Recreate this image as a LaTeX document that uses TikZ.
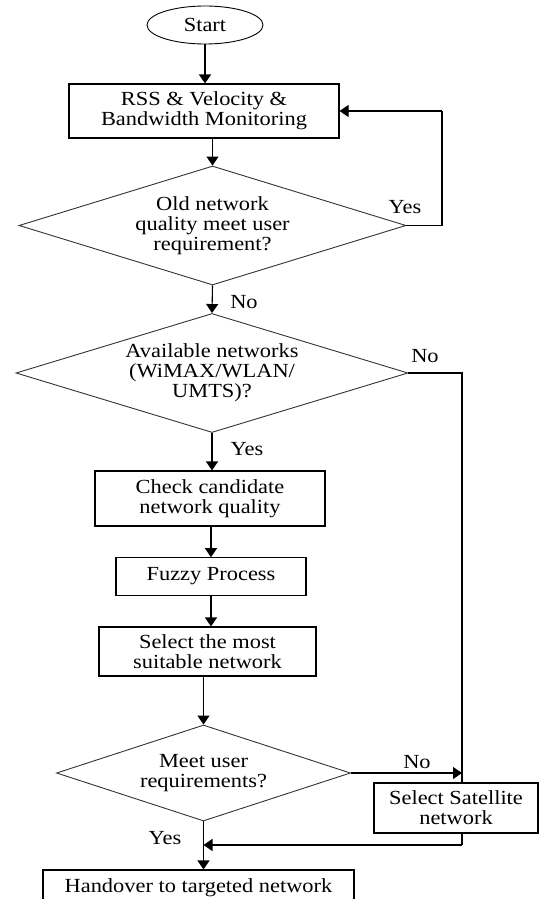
\documentclass[tikz,border=0pt]{standalone}
\usepackage{fontspec}
\setmainfont{Liberation Serif}[FakeStretch=1.12]
\usetikzlibrary{shapes.geometric,arrows.meta}
\begin{document}
\begin{tikzpicture}[x=1pt,y=-1pt,
  font=\fontsize{20}{20}\selectfont,
  every node/.style={inner sep=0pt, align=center},
  line/.style={line width=1.1pt, draw=black},
  arr/.style={line, -{Triangle[length=9pt,width=12pt]}},
  boxnode/.style={draw, line width=1.1pt},
  dia/.style={draw, diamond, line width=0.9pt, draw=black!80},
  lbl/.style={font=\fontsize{20}{20}\selectfont}]
\useasboundingbox (0,0) rectangle (540,899);
\clip (0,0) rectangle (540,899);

\node[draw, ellipse, line width=0.9pt, minimum width=116pt, minimum height=38pt] (start) at (205,25) {Start};
\node[boxnode, minimum width=270pt, minimum height=54pt] (rss) at (204,111) {RSS \& Velocity \&\\Bandwidth Monitoring};
\node[dia, shape aspect=3.25, minimum width=387pt, minimum height=119pt] (d1) at (212.5,225.5) {Old network\\quality meet user\\requirement?};
\node[dia, shape aspect=3.3, minimum width=392pt, minimum height=119pt] (d2) at (212,373) {Available networks\\(WiMAX/WLAN/\\UMTS)?};
\node[boxnode, minimum width=230pt, minimum height=55pt] (check) at (210,498.5) {Check candidate\\network quality};
\node[boxnode, minimum width=190pt, minimum height=37.5pt] (fuzzy) at (211,576.5) {Fuzzy Process};
\node[boxnode, minimum width=217pt, minimum height=49pt] (select) at (207.5,651.5) {Select the most\\suitable network};
\node[dia, shape aspect=3.06, minimum width=294pt, minimum height=96pt] (d3) at (203.5,773) {Meet user\\requirements?};
\node[boxnode, minimum width=164pt, minimum height=50pt] (sat) at (456,808) {Select Satellite\\network};
\node[boxnode, minimum width=311pt, minimum height=36pt] (hand) at (198.5,888) {Handover to targeted network};

\coordinate (loopx) at (442,0);
\coordinate (rx) at (462,0);
\coordinate (jy) at (0,845);

\draw[arr] (start) -- (start |- rss.north);
\draw[arr] (d1.north |- rss.south) -- (d1.north);
\draw[line] (d1.east) -| (loopx |- rss.east);
\draw[arr] (loopx |- rss.east) -- (rss.east);
\draw[arr] (d1.south) -- (d2.north);
\draw[arr] (d2.south) -- (d2.south |- check.north);
\draw[arr] (check.south -| fuzzy.north) -- (fuzzy.north);
\draw[arr] (fuzzy.south) -- (fuzzy.south |- select.north);
\draw[arr] (d3.north |- select.south) -- (d3.north);
\draw[line] (d2.east) -| (rx |- sat.north);
\draw[arr] (d3.east) -- (rx |- d3.east);
\draw[line] (rx |- sat.south) -- (rx |- jy);
\draw[arr] (rx |- jy) -- (d3.south |- jy);
\draw[arr] (d3.south) -- (d3.south |- hand.north);

\node[lbl] (yes1) at (405,207) {Yes};
\node[lbl] (no1) at (244,302) {No};
\node[lbl] (no2) at (425,356) {No};
\node[lbl] (yes2) at (247,449) {Yes};
\node[lbl] (no3) at (417,762) {No};
\node[lbl] (yes3) at (165,838) {Yes};
\end{tikzpicture}
\end{document}
